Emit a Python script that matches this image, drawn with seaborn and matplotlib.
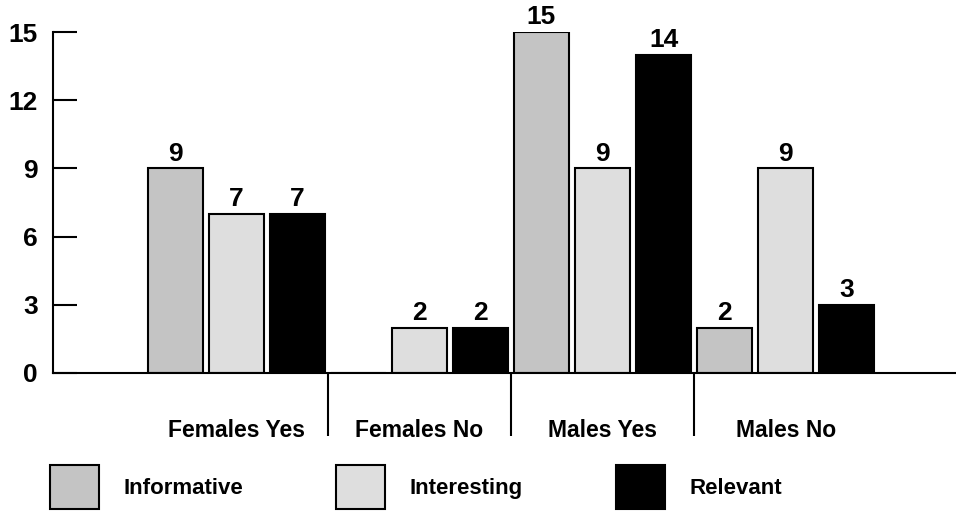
import numpy as np
import pandas as pd
import matplotlib
matplotlib.use("Agg")
import matplotlib.pyplot as plt
from matplotlib.patches import Patch
import seaborn as sns

# data
groups = ["Females Yes", "Females No", "Males Yes", "Males No"]
series = ["Informative", "Interesting", "Relevant"]
informative = [9, 0, 15, 2]
interesting = [7, 2, 9, 9]
relevant = [7, 2, 14, 3]
colors = ["#c4c4c4", "#dedede", "#000000"]
yticks = [0, 3, 6, 9, 12, 15]

sns.set_style("ticks")
plt.rcParams["font.family"] = ["Liberation Sans", "DejaVu Sans"]
plt.rcParams["font.weight"] = "bold"
for key in ["text.color", "xtick.color", "ytick.color", "axes.labelcolor"]:
    plt.rcParams[key] = "black"

df = pd.DataFrame({
    "group": groups * 3,
    "measure": np.repeat(series, len(groups)),
    "count": informative + interesting + relevant,
})

fig = plt.figure(figsize=(9.56, 5.13), dpi=100)
ax = fig.add_axes([53 / 956, 140 / 513, 903 / 956, 341 / 513])

sns.barplot(data=df, x="group", y="count", hue="measure", order=groups,
            hue_order=series, palette=colors, saturation=1, width=1.0, gap=0.1,
            edgecolor="black", linewidth=1.5, legend=False, ax=ax)

# value labels above the bars (nothing for the empty bar)
for cont, vals in zip(ax.containers, [informative, interesting, relevant]):
    ax.bar_label(cont, labels=[str(v) if v else "" for v in vals],
                 padding=2, fontsize=19, fontweight="bold")

ax.set_xlim(-1.0, 3.93)
ax.set_ylim(0, 15)
ax.set_yticks(yticks)
ax.set_xlabel("")
ax.set_ylabel("")

for side in ["top", "right"]:
    ax.spines[side].set_visible(False)
for side in ["left", "bottom"]:
    ax.spines[side].set_linewidth(1.5)
    ax.spines[side].set_color("black")

ax.tick_params(axis="y", left=True, direction="in", length=17, width=1.5,
               pad=11, labelsize=19)
ax.tick_params(axis="x", which="major", bottom=True, length=0, pad=33,
               labelsize=16.5)

# group separators hanging below the axis
ax.set_xticks([0.5, 1.5, 2.5], minor=True)
ax.tick_params(axis="x", which="minor", bottom=True, direction="out",
               length=45, width=1.5)

handles = [Patch(facecolor=c, edgecolor="black", linewidth=1.5) for c in colors]
fig.legend(handles, series, loc="center left", ncol=3, frameon=False,
           bbox_to_anchor=(50 / 956, (513 - 487) / 513), borderaxespad=0,
           borderpad=0, handlelength=2.2, handleheight=2.7, handletextpad=1.1,
           columnspacing=4.2, fontsize=16)

fig.savefig("out.png", dpi=100)
